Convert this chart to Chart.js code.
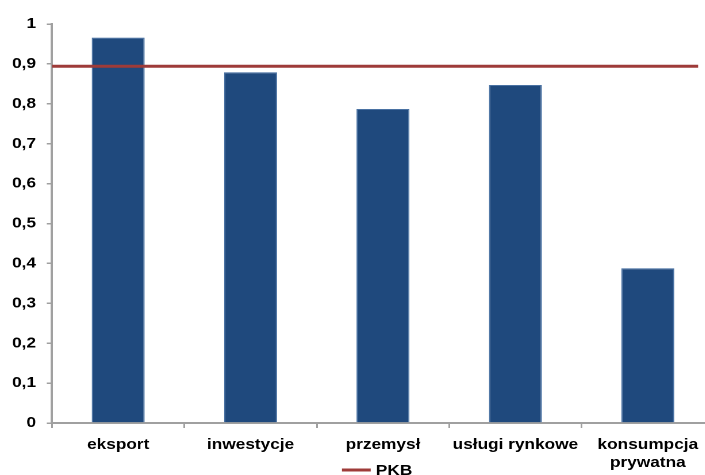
<!DOCTYPE html>
<html>
<head>
<meta charset="utf-8">
<script src="https://cdn.jsdelivr.net/npm/chart.js@4/dist/chart.umd.min.js"></script>
<style>
  html, body { margin: 0; padding: 0; width: 705px; height: 475px; overflow: hidden; background: #fff; }
  #chart { display: block; }
</style>
</head>
<body>
<canvas id="chart" width="621" height="488" style="width:714.15px;height:488px"></canvas>
<script>
// Elasticity by demand / supply component, compared with GDP (PKB)
const categories = ['eksport', 'inwestycje', 'przemysł', 'usługi rynkowe', ['konsumpcja', 'prywatna']];
const componentValues = [0.966, 0.879, 0.787, 0.847, 0.388];
const pkbValue = [0.894];
const yTickLabels = ['0', '0,1', '0,2', '0,3', '0,4', '0,5', '0,6', '0,7', '0,8', '0,9', '1'];

const BAR_BLUE = '#1f497d';
const PKB_RED = '#9e3b39';
const AXIS_GREY = '#a0a0a0';
const FONT_FAMILY = "'Liberation Sans', Arial, sans-serif";

Chart.defaults.font.family = FONT_FAMILY;
Chart.defaults.font.size = 15;
Chart.defaults.font.weight = 'bold';
Chart.defaults.color = '#000';

// the reference line runs across almost the whole plot width
const pkbSpan = [0, 0.976];

// Single-entry legend for the line series, placed below the category labels
const lineLegend = {
  id: 'lineLegend',
  afterDraw(chart, args, opts) {
    const ds = chart.data.datasets[opts.datasetIndex];
    const ctx = chart.ctx;
    const area = chart.chartArea;
    const x0 = (area.left + area.right) / 2 + opts.offsetX;
    const y = opts.y;
    ctx.save();
    ctx.strokeStyle = ds.borderColor;
    ctx.lineWidth = ds.borderWidth;
    ctx.beginPath();
    ctx.moveTo(x0, y);
    ctx.lineTo(x0 + opts.sampleWidth, y);
    ctx.stroke();
    ctx.font = `bold 15px ${FONT_FAMILY}`;
    ctx.fillStyle = '#000';
    ctx.textAlign = 'left';
    ctx.textBaseline = 'middle';
    ctx.fillText(ds.label, x0 + opts.sampleWidth + opts.gap, y + 1);
    ctx.restore();
  }
};

new Chart(document.getElementById('chart'), {
  type: 'bar',
  data: {
    labels: categories,
    datasets: [
      {
        type: 'line',
        label: 'PKB',
        data: pkbSpan.map(x => ({ x: x, y: pkbValue[0] })),
        xAxisID: 'xl',
        yAxisID: 'y',
        borderColor: PKB_RED,
        backgroundColor: PKB_RED,
        borderWidth: 3,
        pointRadius: 0,
        pointHoverRadius: 0,
        tension: 0
      },
      {
        label: 'składowe',
        data: componentValues,
        xAxisID: 'x',
        yAxisID: 'y',
        grouped: false,
        backgroundColor: BAR_BLUE,
        borderColor: '#4a72a3',
        borderWidth: 1,
        barPercentage: 0.4,
        categoryPercentage: 1
      }
    ]
  },
  options: {
    responsive: false,
    devicePixelRatio: 2,
    animation: false,
    layout: { padding: { top: 24, left: 0, right: 0, bottom: 12 } },
    plugins: {
      tooltip: { enabled: false },
      legend: { display: false },
      lineLegend: { datasetIndex: 0, offsetX: -35.7, y: 470, sampleWidth: 25, gap: 4.5 }
    },
    scales: {
      x: {
        type: 'category',
        offset: true,
        grid: {
          offset: true,
          drawOnChartArea: false,
          drawTicks: true,
          tickLength: 5,
          color: AXIS_GREY,
          lineWidth: 1.5
        },
        border: { color: AXIS_GREY, width: 2 },
        ticks: { padding: 8, maxRotation: 0, autoSkip: false, color: '#000' },
        afterFit: scale => { scale.height = 53; }
      },
      xl: {
        type: 'linear',
        min: 0,
        max: 1,
        offset: false,
        grid: { offset: false },
        display: false
      },
      y: {
        min: 0,
        max: 1,
        ticks: {
          stepSize: 0.1,
          padding: 9.4,
          color: '#000',
          callback: (value, index) => yTickLabels[index]
        },
        grid: {
          drawOnChartArea: false,
          tickLength: 4.5,
          color: AXIS_GREY,
          lineWidth: 1.5
        },
        border: { color: AXIS_GREY, width: 2 },
        afterFit: scale => { scale.width = 45.2; }
      }
    }
  },
  plugins: [lineLegend]
});
</script>
</body>
</html>
